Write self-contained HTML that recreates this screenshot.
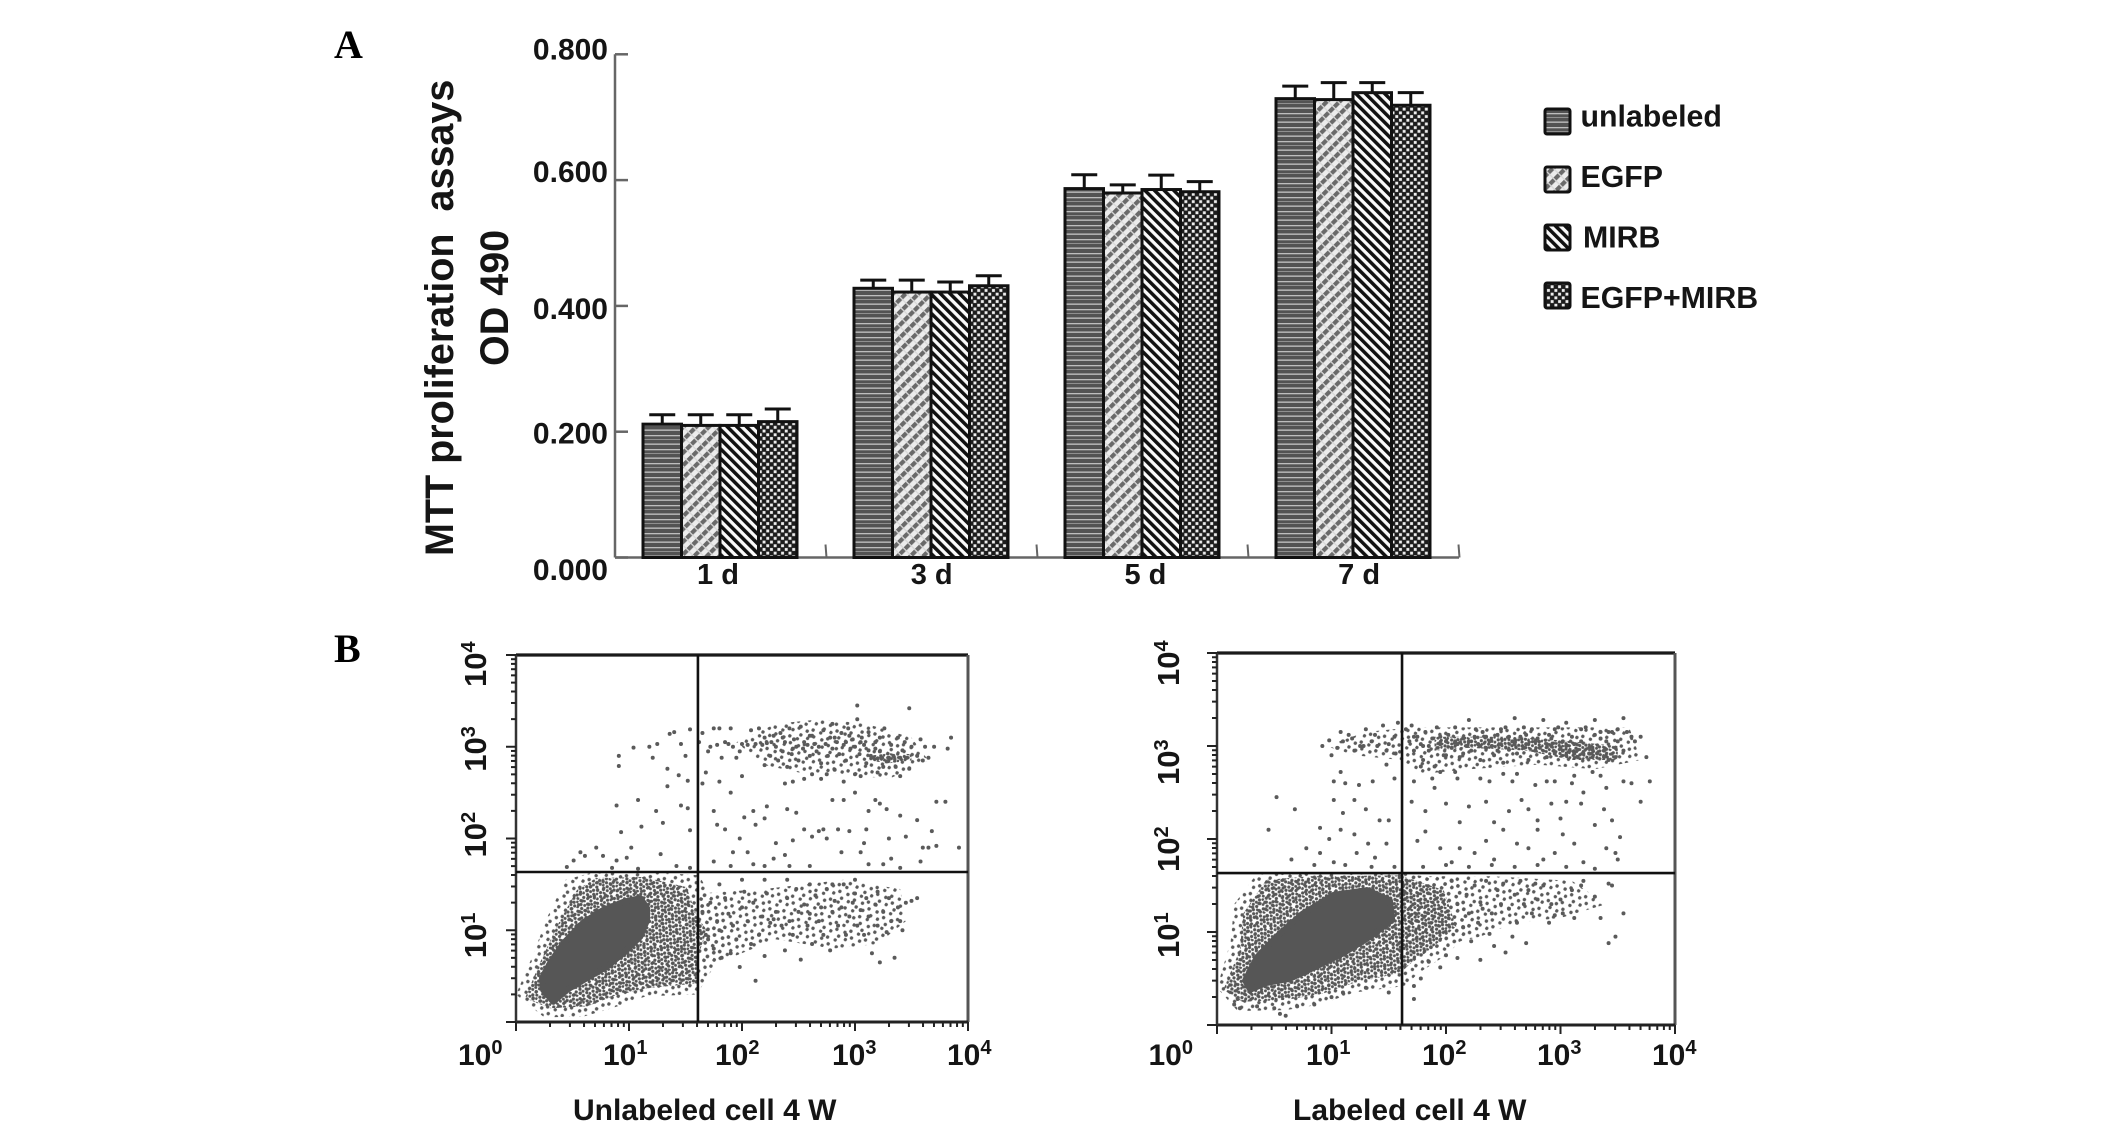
<!DOCTYPE html>
<html lang="en">
<head>
<meta charset="utf-8">
<title>MTT proliferation assays and flow cytometry</title>
<style>
  html, body { margin: 0; padding: 0; background: #fff; }
  svg { display: block; }
  text { font-family: "Liberation Sans", sans-serif; font-weight: bold; fill: #151515; }
  .panel-letter { font-family: "Liberation Serif", serif; font-size: 40px; fill: #000; }
</style>
</head>
<body>
<svg id="figure" xmlns="http://www.w3.org/2000/svg" width="2126" height="1123" viewBox="0 0 2126 1123">
  <defs>
    <pattern id="pat-hlines" patternUnits="userSpaceOnUse" width="14" height="14">
      <rect width="14" height="14" fill="#535353"/>
      <rect y="1" width="14" height="1.3" fill="#bdbdbd"/>
      <rect y="5" width="14" height="1" fill="#8f8f8f"/>
      <rect y="9.5" width="14" height="1.3" fill="#c4c4c4"/>
    </pattern>
    <pattern id="pat-light" patternUnits="userSpaceOnUse" width="9" height="7" patternTransform="rotate(45)">
      <rect width="9" height="7" fill="#ececec"/>
      <rect width="4.2" height="7" fill="#6a6a6a"/>
      <rect y="0" width="9" height="1.3" fill="#d8d8d8"/>
    </pattern>
    <pattern id="pat-back" patternUnits="userSpaceOnUse" width="6.8" height="6.8" patternTransform="rotate(-45)">
      <rect width="6.8" height="6.8" fill="#fafafa"/>
      <rect width="3.5" height="6.8" fill="#111"/>
    </pattern>
    <pattern id="pat-check" patternUnits="userSpaceOnUse" width="7.4" height="7.4">
      <rect width="7.4" height="7.4" fill="#1c1c1c"/>
      <rect x="0.4" y="0.4" width="2.9" height="2.9" fill="#eee"/>
      <rect x="4.1" y="4.1" width="2.9" height="2.9" fill="#eee"/>
    </pattern>
    <pattern id="pat-stipple" patternUnits="userSpaceOnUse" width="15" height="15" patternTransform="rotate(23)">
      <g fill="#565656">
        <circle cx="1.6" cy="2" r="1.6"/><circle cx="5" cy="0.9" r="1.5"/><circle cx="9.2" cy="2.6" r="1.6"/><circle cx="13" cy="1.2" r="1.5"/>
        <circle cx="3.2" cy="5.6" r="1.6"/><circle cx="7" cy="5" r="1.5"/><circle cx="11" cy="6.2" r="1.6"/><circle cx="14" cy="4.6" r="1.4"/>
        <circle cx="1" cy="9" r="1.5"/><circle cx="5.4" cy="9" r="1.6"/><circle cx="9" cy="9.6" r="1.5"/><circle cx="13" cy="9.4" r="1.6"/>
        <circle cx="3" cy="13" r="1.6"/><circle cx="7" cy="12.6" r="1.5"/><circle cx="11" cy="13.4" r="1.6"/>
      </g>
    </pattern>
    <pattern id="pat-sparse" patternUnits="userSpaceOnUse" width="17" height="17" patternTransform="rotate(31)">
      <g fill="#5a5a5a">
        <circle cx="2" cy="3" r="1.7"/><circle cx="10" cy="1.5" r="1.7"/><circle cx="14.5" cy="7" r="1.7"/>
        <circle cx="6" cy="8.5" r="1.7"/><circle cx="1.5" cy="13" r="1.7"/><circle cx="11" cy="13.5" r="1.7"/>
      </g>
    </pattern>
  </defs>

  <text class="panel-letter" x="334" y="58">A</text>
  <text class="panel-letter" x="334" y="662">B</text>

  <text transform="translate(453,556) rotate(-90)" font-size="39.5" xml:space="preserve" style="white-space:pre">MTT proliferation  assays</text>
  <text transform="translate(508,366) rotate(-90)" font-size="39.5">OD 490</text>

  <g id="bar-chart"></g>
  <g id="legend"></g>

  <g id="flow-unlabeled"></g>
  <g id="flow-labeled"></g>

  <text x="573" y="1120" font-size="30">Unlabeled cell 4 W</text>
  <text x="1293" y="1120" font-size="30">Labeled cell 4 W</text>
</svg>

<script>
// ---- Bar chart data ----
const categories = ["1 d", "3 d", "5 d", "7 d"];
const seriesNames = ["unlabeled", "EGFP", "MIRB", "EGFP+MIRB"];
const unlabeledValues = [0.212, 0.428, 0.5865, 0.7295];
const egfpValues = [0.210, 0.422, 0.5795, 0.728];
const mirbValues = [0.210, 0.422, 0.585, 0.739];
const comboValues = [0.216, 0.432, 0.5815, 0.719];
const unlabeledErrors = [0.015, 0.013, 0.022, 0.020];
const egfpErrors = [0.017, 0.019, 0.013, 0.027];
const mirbErrors = [0.017, 0.016, 0.023, 0.016];
const comboErrors = [0.020, 0.016, 0.016, 0.020];
const yTickValues = [0, 0.2, 0.4, 0.6, 0.8];
const yTickLabels = ["0.000", "0.200", "0.400", "0.600", "0.800"];

// ---- Flow cytometry data: [log10 x, log10 y] ----
const flowTickExponents = [0, 1, 2, 3, 4];

const unlabeledGate = [1.61, 1.635];
const unlabeledCore = [[.23,.48],[.30,.64],[.42,.86],[.60,1.09],[.77,1.22],[.95,1.31],[1.10,1.35],[1.16,1.24],[1.16,1.11],[1.10,.93],[.95,.75],[.80,.60],[.63,.48],[.45,.35],[.33,.22],[.24,.35]];
const unlabeledHalo = [[.08,.26],[.21,.64],[.36,1.04],[.54,1.44],[.71,1.57],[1.13,1.58],[1.51,1.47],[1.60,1.15],[1.69,1.0],[1.60,.68],[1.60,.42],[1.16,.37],[.86,.28],[.63,.17],[.30,.15]];
const unlabeledFringe = [[.0,.3],[.14,.7],[.28,1.15],[.44,1.55],[.68,1.63],[1.2,1.63],[1.62,1.6],[1.8,1.2],[1.9,.9],[1.7,.5],[1.6,.3],[1.15,.28],[.85,.15],[.6,.06],[.25,.05]];
const unlabeledUpperBand = [[1.95,3.05],[2.3,3.25],[2.7,3.3],[3.1,3.25],[3.5,3.1],[3.65,2.85],[3.3,2.65],[2.9,2.7],[2.5,2.72],[2.2,2.8]];
const unlabeledLowerBand = [[1.62,1.4],[2.2,1.45],[2.9,1.55],[3.4,1.45],[3.45,1.1],[3.2,.85],[2.8,.8],[2.3,.9],[1.9,.7],[1.62,.6]];
const unlabeledStreak = [[3.12,2.9],[3.3,2.93],[3.5,2.92],[3.5,2.85],[3.3,2.82],[3.12,2.85]];
const unlabeledPoints = [
[.89,2.36],[.91,2.90],[.91,2.79],[1.04,2.99],[1.08,2.42],[1.11,2.13],[1.18,3.0],[1.21,2.88],[1.25,3.03],[1.24,2.30],[1.30,2.17],[1.34,2.57],[1.34,2.76],[1.36,3.14],[1.40,3.16],[1.44,2.69],[1.46,2.36],[1.46,3.03],[1.50,2.90],[1.52,2.63],[1.52,2.33],[1.54,3.19],[1.54,2.09],[.93,2.07],[1.28,1.83],[.71,1.90],[.57,1.85],[.51,1.76],[.61,1.81],[.77,1.81],[.89,1.76],[.98,1.79],[1.02,1.90],[.45,1.69],[.85,1.68],[1.08,1.67],[1.42,1.70],[1.54,1.68],
[1.62,3.05],[1.65,3.15],[1.70,2.95],[1.72,3.0],[1.75,3.2],[1.78,3.02],[1.80,3.2],[1.82,2.88],[1.85,3.05],[1.88,3.03],[1.90,3.2],[1.92,3.0],[1.95,2.88],[1.98,2.95],[2.0,3.03],[2.05,3.02],[2.08,3.18],[2.12,3.03],[2.15,3.2],[2.18,3.02],[2.2,2.8],[2.2,3.1],[2.22,3.04],[2.25,2.9],[2.28,3.12],[2.3,3.0],[2.32,2.85],[2.34,3.15],[2.36,2.95],[2.38,3.05],[2.4,2.78],[2.42,3.2],[2.44,2.92],[2.46,3.08],[2.48,3.0],[2.5,2.85],[2.52,3.22],[2.54,2.98],[2.55,3.05],[2.58,3.02],[2.6,2.9],[2.62,3.12],[2.62,2.7],[2.64,3.03],[2.66,2.95],[2.68,3.0],[2.7,2.82],[2.72,3.18],[2.74,3.03],[2.76,2.9],[2.78,3.1],[2.8,2.98],[2.8,3.25],[2.82,2.75],[2.84,3.05],[2.86,2.92],[2.88,3.15],[2.9,3.02],[2.92,2.85],[2.94,3.2],[2.96,2.98],[2.98,3.08],[3.0,2.7],[3.0,3.0],[3.02,3.3],[3.04,2.92],[3.06,3.1],[3.08,3.02],[3.1,2.82],[3.12,3.16],[3.14,2.9],[3.16,2.88],[3.18,3.05],[3.2,2.87],[3.22,2.95],[3.24,2.88],[3.26,3.2],[3.28,2.84],[3.3,2.88],[3.32,3.02],[3.34,2.9],[3.36,2.78],[3.38,3.1],[3.4,2.88],[3.42,2.96],[3.44,3.05],[3.46,2.88],[3.48,2.76],[3.5,3.0],[3.55,2.9],[3.58,3.08],[3.6,2.85],[3.62,3.0],[3.65,2.88],[3.7,3.0],[3.85,3.1],[3.82,2.98],[3.48,3.42],[3.02,3.45],[2.7,2.65],[2.75,2.7],[2.55,2.65],[2.45,2.62],[2.38,2.6],[2.9,2.62],[3.05,2.68],[3.2,2.72],[3.4,2.68],[3.25,2.78],[3.18,2.98],[3.22,3.1],[3.12,2.96],[2.95,3.12],[2.82,3.1],[2.6,3.12],[2.45,2.98],[2.36,3.1],[2.26,3.05],[2.92,3.05],[3.05,3.05],
[1.65,2.6],[1.68,2.72],[1.75,2.3],[1.78,2.15],[1.85,2.1],[1.8,2.62],[1.9,2.5],[1.92,1.85],[1.98,2.0],[2.0,2.68],[2.02,2.23],[2.05,1.85],[2.12,2.15],[2.1,2.3],[2.2,2.22],[2.22,2.35],[2.28,1.78],[2.3,1.95],[2.4,2.32],[2.45,1.98],[2.38,1.82],[2.48,2.28],[2.55,2.1],[2.62,2.02],[2.68,2.08],[2.72,2.1],[2.75,2.0],[2.8,2.42],[2.85,2.1],[2.88,1.85],[2.95,2.08],[2.9,2.42],[3.0,2.5],[3.05,1.85],[3.1,2.1],[3.12,2.3],[3.08,1.95],[3.18,2.42],[3.22,2.38],[3.28,2.32],[3.3,2.0],[3.32,1.78],[3.4,2.25],[3.45,2.02],[3.55,2.2],[3.58,1.75],[3.6,1.9],[3.65,1.9],[3.72,2.4],[3.68,2.08],[3.8,2.4],[3.92,1.9],[3.72,1.92],[1.75,1.75],[1.9,1.7],[2.1,1.72],[2.2,1.7],[2.42,1.7],[2.6,1.7],[3.12,1.72],[3.25,1.72],[3.4,1.68],
[1.65,1.2],[1.68,.95],[1.7,.9],[1.72,1.3],[1.75,.8],[1.78,1.1],[1.8,1.0],[1.82,.7],[1.85,1.35],[1.88,1.18],[1.9,.75],[1.92,1.05],[1.95,.9],[1.98,.6],[2.0,1.25],[2.02,1.42],[2.05,1.1],[2.08,.85],[2.1,1.3],[2.12,.45],[2.15,.95],[2.18,1.15],[2.2,.72],[2.22,1.4],[2.25,1.08],[2.28,1.12],[2.3,1.2],[2.35,1.05],[2.38,.78],[2.4,1.35],[2.42,1.1],[2.45,.95],[2.48,1.45],[2.5,1.2],[2.52,.68],[2.55,1.28],[2.58,1.05],[2.6,1.18],[2.62,.85],[2.65,1.38],[2.68,1.1],[2.7,1.25],[2.72,.95],[2.75,1.45],[2.78,.78],[2.8,1.2],[2.82,1.32],[2.85,1.05],[2.88,1.25],[2.9,1.5],[2.92,.95],[2.95,1.15],[2.98,1.3],[3.0,1.4],[3.02,1.05],[3.05,1.22],[3.08,.95],[3.1,1.35],[3.12,1.15],[3.15,.75],[3.18,1.28],[3.2,1.05],[3.22,.65],[3.25,1.2],[3.28,.98],[3.3,1.35],[3.32,1.1],[3.35,.7],[3.38,1.25],[3.42,1.0],[3.45,1.3],[3.5,1.32],[3.55,1.35],[3.4,1.1],[3.2,1.42],[3.0,1.55],[2.8,1.5],[2.6,1.5],[2.4,1.55],[2.2,1.55],[2.0,1.55],[1.8,1.5]
];

const labeledGate = [1.616, 1.634];
const labeledCore = [[.245,.48],[.35,.73],[.52,.95],[.75,1.20],[1.02,1.40],[1.31,1.45],[1.51,1.34],[1.53,1.13],[1.34,.95],[1.10,.77],[.87,.63],[.64,.50],[.43,.45],[.29,.38]];
const labeledHalo = [[.055,.38],[.20,.81],[.23,1.20],[.43,1.56],[.81,1.60],[1.60,1.61],[1.98,1.45],[2.09,1.06],[1.86,.81],[1.69,.66],[1.60,.56],[1.19,.45],[.93,.34],[.61,.27],[.22,.25]];
const labeledFringe = [[0,.4],[.12,.9],[.15,1.3],[.35,1.63],[.85,1.63],[1.62,1.63],[2.1,1.55],[2.25,1.05],[2.0,.75],[1.75,.55],[1.65,.42],[1.2,.35],[.9,.22],[.6,.16],[.18,.15]];
const labeledUpperBand = [[.95,3.0],[1.3,3.15],[1.7,3.2],[2.4,3.2],[3.0,3.2],[3.6,3.2],[3.7,2.85],[3.3,2.75],[2.8,2.8],[2.2,2.75],[1.8,2.7],[1.6,2.85],[1.2,2.9]];
const labeledLowerBand = [[1.6,1.6],[2.4,1.6],[3.1,1.55],[3.4,1.3],[3.0,1.15],[2.6,1.1],[2.3,.95],[1.95,.85],[1.6,.7]];
const labeledStreak = [[1.9,3.1],[2.6,3.1],[3.1,3.05],[3.5,3.0],[3.5,2.85],[3.1,2.85],[2.7,2.95],[2.2,2.98],[1.9,2.95]];
const labeledPoints = [
[.52,2.45],[.68,2.32],[.45,2.1],[1.0,2.9],[1.05,2.98],[1.1,3.05],[1.15,3.12],[1.2,2.95],[1.25,3.0],[1.3,3.18],[1.35,3.05],[1.4,3.0],[1.45,3.22],[1.5,3.02],[1.55,3.1],[1.58,3.25],[.92,3.0],[.98,3.06],[1.08,3.15],[1.18,3.08],[1.28,3.0],[1.38,3.12],[1.48,2.95],[1.56,2.92],[1.02,2.62],[1.08,2.72],[1.12,2.6],[1.24,2.58],[1.36,2.62],[1.48,2.8],[1.55,2.65],[1.02,2.42],[1.1,2.28],[1.2,2.42],[1.3,2.32],[1.42,2.2],[1.5,2.2],[.9,2.12],[.98,2.0],[1.08,2.1],[1.2,2.05],[1.32,1.95],[1.48,1.95],[.78,1.9],[.9,1.85],[1.02,1.75],[1.22,1.85],[1.38,1.8],[.65,1.78],[.85,1.72],[1.12,1.72],[1.35,1.7],[1.55,1.7],
[1.65,3.18],[1.68,3.05],[1.7,3.22],[1.72,2.95],[1.75,3.1],[1.78,3.02],[1.8,2.85],[1.82,3.15],[1.85,3.0],[1.88,3.08],[1.9,2.78],[1.92,3.2],[1.95,3.02],[1.98,2.9],[2.0,3.05],[2.02,3.12],[2.05,2.98],[2.08,3.2],[2.1,3.02],[2.12,2.88],[2.15,3.08],[2.18,3.0],[2.2,3.28],[2.22,2.95],[2.25,3.1],[2.28,3.02],[2.3,2.85],[2.32,3.15],[2.35,2.98],[2.38,3.05],[2.4,3.0],[2.42,2.9],[2.45,3.12],[2.48,3.02],[2.5,2.82],[2.52,3.2],[2.55,2.96],[2.58,3.05],[2.6,3.3],[2.62,2.92],[2.65,3.1],[2.68,2.98],[2.7,3.02],[2.72,2.85],[2.75,3.18],[2.78,2.95],[2.8,3.08],[2.82,2.98],[2.85,3.28],[2.88,2.88],[2.9,3.12],[2.92,3.0],[2.95,2.92],[2.98,3.2],[3.0,2.98],[3.02,3.05],[3.05,2.9],[3.08,2.95],[3.1,3.1],[3.12,2.92],[3.15,2.88],[3.18,3.05],[3.2,2.92],[3.22,3.2],[3.25,2.98],[3.28,2.88],[3.3,3.12],[3.32,2.92],[3.35,3.08],[3.38,2.95],[3.4,3.05],[3.42,2.85],[3.45,3.15],[3.48,2.98],[3.5,3.05],[3.55,2.95],[3.58,3.15],[3.62,3.1],[3.65,3.05],[3.7,3.1],[3.75,2.88],[3.55,3.3],[3.3,3.28],[3.05,3.25],[3.18,3.18],[3.42,3.15],[3.5,3.18],[3.35,3.15],[1.85,2.95],[2.0,2.9],[2.15,2.92],[2.3,3.0],[2.45,2.95],[2.6,3.02],[2.7,3.12],[2.88,3.02],[3.02,2.95],[3.12,3.02],[3.25,2.92],[3.38,2.88],[3.48,2.88],[3.28,2.96],[3.15,2.96],[3.05,3.0],[2.92,3.08],[2.78,3.05],[2.55,3.1],[2.35,3.1],[2.2,3.05],[2.08,3.05],[1.95,3.1],[1.8,3.0],[1.72,3.1],[2.26,3.18],[2.48,3.18],[2.68,3.2],[2.95,3.18],
[1.7,2.4],[1.72,2.62],[1.78,2.78],[1.82,2.3],[1.88,2.65],[1.9,2.55],[1.95,2.72],[2.0,2.38],[2.08,2.72],[2.1,2.65],[2.12,2.18],[2.2,2.35],[2.3,2.65],[2.35,2.4],[2.38,2.62],[2.42,2.18],[2.5,2.7],[2.55,2.3],[2.58,2.62],[2.62,2.7],[2.66,2.42],[2.72,2.32],[2.78,2.58],[2.8,2.2],[2.88,2.62],[2.92,2.38],[2.95,2.62],[3.0,2.22],[3.05,2.4],[3.1,2.6],[3.12,2.68],[3.18,2.38],[3.2,2.5],[3.28,2.72],[3.35,2.68],[3.38,2.32],[3.45,2.2],[3.62,2.6],[3.4,2.55],[3.55,2.62],[3.7,2.4],[3.78,2.62],[1.75,1.98],[1.82,2.08],[1.95,1.9],[2.05,1.75],[2.12,1.9],[2.25,1.85],[2.35,1.98],[2.42,1.78],[2.5,2.1],[2.62,1.95],[2.72,1.9],[2.8,2.1],[2.85,1.78],[2.95,1.85],[3.02,2.05],[3.12,1.95],[3.2,1.75],[3.3,2.15],[3.4,1.9],[3.52,2.02],[3.48,1.85],[3.5,1.78],[1.8,1.7],[2.0,1.72],[2.2,1.7],[2.4,1.72],[2.6,1.7],[2.8,1.72],[3.05,1.7],[3.3,1.68],
[2.1,1.3],[2.15,1.05],[2.18,1.4],[2.2,1.2],[2.22,.9],[2.25,1.5],[2.28,1.1],[2.3,1.32],[2.32,1.25],[2.35,1.55],[2.38,.98],[2.4,1.2],[2.42,.85],[2.45,1.45],[2.48,1.3],[2.5,1.52],[2.52,.78],[2.55,1.25],[2.58,.95],[2.6,1.4],[2.62,1.1],[2.65,1.55],[2.68,1.3],[2.7,.88],[2.72,1.45],[2.75,1.2],[2.78,1.52],[2.8,1.35],[2.85,1.5],[2.9,1.1],[2.92,1.3],[2.95,1.18],[3.0,1.35],[3.02,1.2],[3.1,1.45],[3.12,1.15],[3.18,1.5],[3.2,1.55],[3.3,1.38],[3.42,1.52],[3.45,1.5],[3.35,1.15],[3.42,.88],[3.48,.95],[3.55,1.2],[2.05,1.55],[2.0,.75],[1.95,.62],[1.85,.68],[1.78,.5],[1.72,.42],[2.1,.72],[2.3,.7],[.18,.28],[.15,.22],[.2,.18],[.35,.2],[.5,.18],[.55,.12],[.6,.1],[.7,.2],[.85,.22],[1.0,.3],[1.1,.35],[1.3,.4],[1.5,.35],[1.72,.28]
];

// ---- Axis functions ----
const barY = v => 557.5 - 629 * v;
const barX = (group, series) => 643 + 211 * group + 38.5 * series;

const SVGNS = "http://www.w3.org/2000/svg";
function make(tag, parent, attrs) {
  const el = document.createElementNS(SVGNS, tag);
  for (const k in attrs) el.setAttribute(k, attrs[k]);
  parent.appendChild(el);
  return el;
}

// ---- Bar chart ----
const barChart = document.getElementById("bar-chart");
const seriesValues = [unlabeledValues, egfpValues, mirbValues, comboValues];
const seriesErrors = [unlabeledErrors, egfpErrors, mirbErrors, comboErrors];
const seriesFills = ["url(#pat-hlines)", "url(#pat-light)", "url(#pat-back)", "url(#pat-check)"];
const yLabelNudge = [22.5, 12, 13, 2, 5];

const yAxisLine = make("line", barChart, {x1: 615, x2: 615, y1: barY(0.8), y2: barY(0), stroke: "#666", "stroke-width": 2.5});


const xAxisLine = make("line", barChart, {x1: 615, x2: 1459, y1: barY(0), y2: barY(0), stroke: "#666", "stroke-width": 2.5});



yTickValues.forEach((v, i) => {
  const tick = make("line", barChart, {x1: 615, x2: 628, y1: barY(v), y2: barY(v), stroke: "#666", "stroke-width": 2.5});
  
  
  const label = make("text", barChart, {x: 608, y: barY(v) + yLabelNudge[i], "text-anchor": "end", "font-size": 30});
  label.textContent = yTickLabels[i];
  
  
});

categories.forEach((cat, g) => {
  const sep = make("line", barChart, {x1: barX(g, 0) + 182.5, x2: barX(g, 0) + 182.5 + 1, y1: barY(0) - 13, y2: barY(0), stroke: "#666", "stroke-width": 2});
  
  
  const label = make("text", barChart, {x: barX(g, 2) - 2 + 2.7 * g, y: 584, "text-anchor": "middle", "font-size": 29});
  label.textContent = cat;
  
  
  seriesValues.forEach((vals, s) => {
    const x = barX(g, s), w = 38.5, v = vals[g], top = barY(v), capY = barY(v + seriesErrors[s][g]);
    const cx = x + w / 2;
    const stem = make("line", barChart, {x1: cx, x2: cx, y1: capY, y2: top, stroke: "#111", "stroke-width": 3});
    
    
    const cap = make("line", barChart, {x1: cx - 13, x2: cx + 13, y1: capY, y2: capY, stroke: "#111", "stroke-width": 3});
    
    
    const bar = make("rect", barChart, {x: x, y: top, width: w, height: barY(0) - top, fill: seriesFills[s], stroke: "#111", "stroke-width": 3});
    
    
  });
});

// ---- Legend ----
const legend = document.getElementById("legend");
const legendRows = [121, 179, 237, 295];
const legendTextX = [1580.5, 1580.5, 1583, 1580.5];
const legendBase = [126.5, 187, 247.5, 308];
seriesNames.forEach((name, i) => {
  const swatch = make("rect", legend, {x: 1545, y: legendRows[i] - 12, width: 25, height: 25, rx: 2, fill: seriesFills[i], stroke: "#111", "stroke-width": 3});
  
  
  const label = make("text", legend, {x: legendTextX[i], y: legendBase[i], "font-size": 30.3});
  label.textContent = name;
  
  
});

// ---- Flow plots ----
function polyPath(poly, sx, sy) {
  return poly.map((p, i) => (i ? "L" : "M") + sx(p[0]).toFixed(1) + " " + sy(p[1]).toFixed(1)).join("") + "Z";
}

function drawFlow(group, box, gate, regions, points, xNudge, yNudge) {
  const sx = l => box.left + (box.right - box.left) * l / 4;
  const sy = l => box.bottom - (box.bottom - box.top) * l / 4;

  [regions.fringe, regions.upper, regions.lower].forEach(poly => {
    const sparse = make("path", group, {d: polyPath(poly, sx, sy), fill: "url(#pat-sparse)"});
    
    
  });
  [regions.halo, regions.streak].forEach(poly => {
    const dense = make("path", group, {d: polyPath(poly, sx, sy), fill: "url(#pat-stipple)"});
    
    
  });
  const coreEl = make("path", group, {d: polyPath(regions.core, sx, sy), fill: "#565656", stroke: "#565656", "stroke-width": 6, "stroke-linejoin": "round"});
  
  

  points.forEach(p => {
    const dot = make("circle", group, {cx: sx(p[0]), cy: sy(p[1]), r: 2, fill: "#5a5a5a"});
    
    
  });

  const frame = [
    [box.left, box.top, box.right, box.top, "#1a1a1a", 3.2],
    [box.right, box.top, box.right, box.bottom, "#555", 3],
    [box.right, box.bottom, box.left, box.bottom, "#222", 3],
    [box.left, box.bottom, box.left, box.top, "#333", 2.5]
  ];
  frame.forEach(f => {
    const edge = make("line", group, {x1: f[0], y1: f[1], x2: f[2], y2: f[3], stroke: f[4], "stroke-width": f[5]});
    
    
  });

  const vGate = make("line", group, {x1: sx(gate[0]), x2: sx(gate[0]), y1: box.top, y2: box.bottom, stroke: "#111", "stroke-width": 2.6});
  
  
  const hGate = make("line", group, {x1: box.left, x2: box.right, y1: sy(gate[1]), y2: sy(gate[1]), stroke: "#111", "stroke-width": 2.6});
  
  

  flowTickExponents.forEach((e, idx) => {
    const majorX = make("line", group, {x1: sx(e), x2: sx(e), y1: box.bottom, y2: box.bottom + 9, stroke: "#222", "stroke-width": 2});
    
    
    const majorY = make("line", group, {x1: box.left - 10, x2: box.left, y1: sy(e), y2: sy(e), stroke: "#222", "stroke-width": 2});
    
    
    if (e < 4) {
      for (let m = 2; m < 10; m++) {
        const minorX = make("line", group, {x1: sx(e + Math.log10(m)), x2: sx(e + Math.log10(m)), y1: box.bottom, y2: box.bottom + 5, stroke: "#222", "stroke-width": 2});
        
        
        const minorY = make("line", group, {x1: box.left - 5, x2: box.left, y1: sy(e + Math.log10(m)), y2: sy(e + Math.log10(m)), stroke: "#222", "stroke-width": 2});
        
        
      }
    }
    const xl = make("text", group, {x: sx(e) + xNudge[idx], y: 1065, "font-size": 30});
    
    
    xl.textContent = "10";
    const xs = make("tspan", xl, {dy: -11, "font-size": 20});
    xs.textContent = String(e);
    if (e > 0) {
      const yl = make("text", group, {transform: "translate(" + (box.left - 30 + (box.left > 1000 ? -8 : 0)) + "," + (sy(e) + yNudge[idx]) + ") rotate(-90)", "font-size": 31});
      
      
      yl.textContent = "10";
      const ys = make("tspan", yl, {dy: -11, "font-size": 20});
      ys.textContent = String(e);
    }
  });
}

drawFlow(document.getElementById("flow-unlabeled"), {left: 516, right: 968, top: 655, bottom: 1022}, unlabeledGate,
  {core: unlabeledCore, halo: unlabeledHalo, fringe: unlabeledFringe, upper: unlabeledUpperBand, lower: unlabeledLowerBand, streak: unlabeledStreak},
  unlabeledPoints, [-58, -26, -27, -23, -21], [0, 28, 19, 25, 32]);
drawFlow(document.getElementById("flow-labeled"), {left: 1217, right: 1675, top: 653, bottom: 1025}, labeledGate,
  {core: labeledCore, halo: labeledHalo, fringe: labeledFringe, upper: labeledUpperBand, lower: labeledLowerBand, streak: labeledStreak},
  labeledPoints, [-68.5, -25.5, -24, -23.5, -23], [0, 26, 33, 39, 33]);
</script>
</body>
</html>
